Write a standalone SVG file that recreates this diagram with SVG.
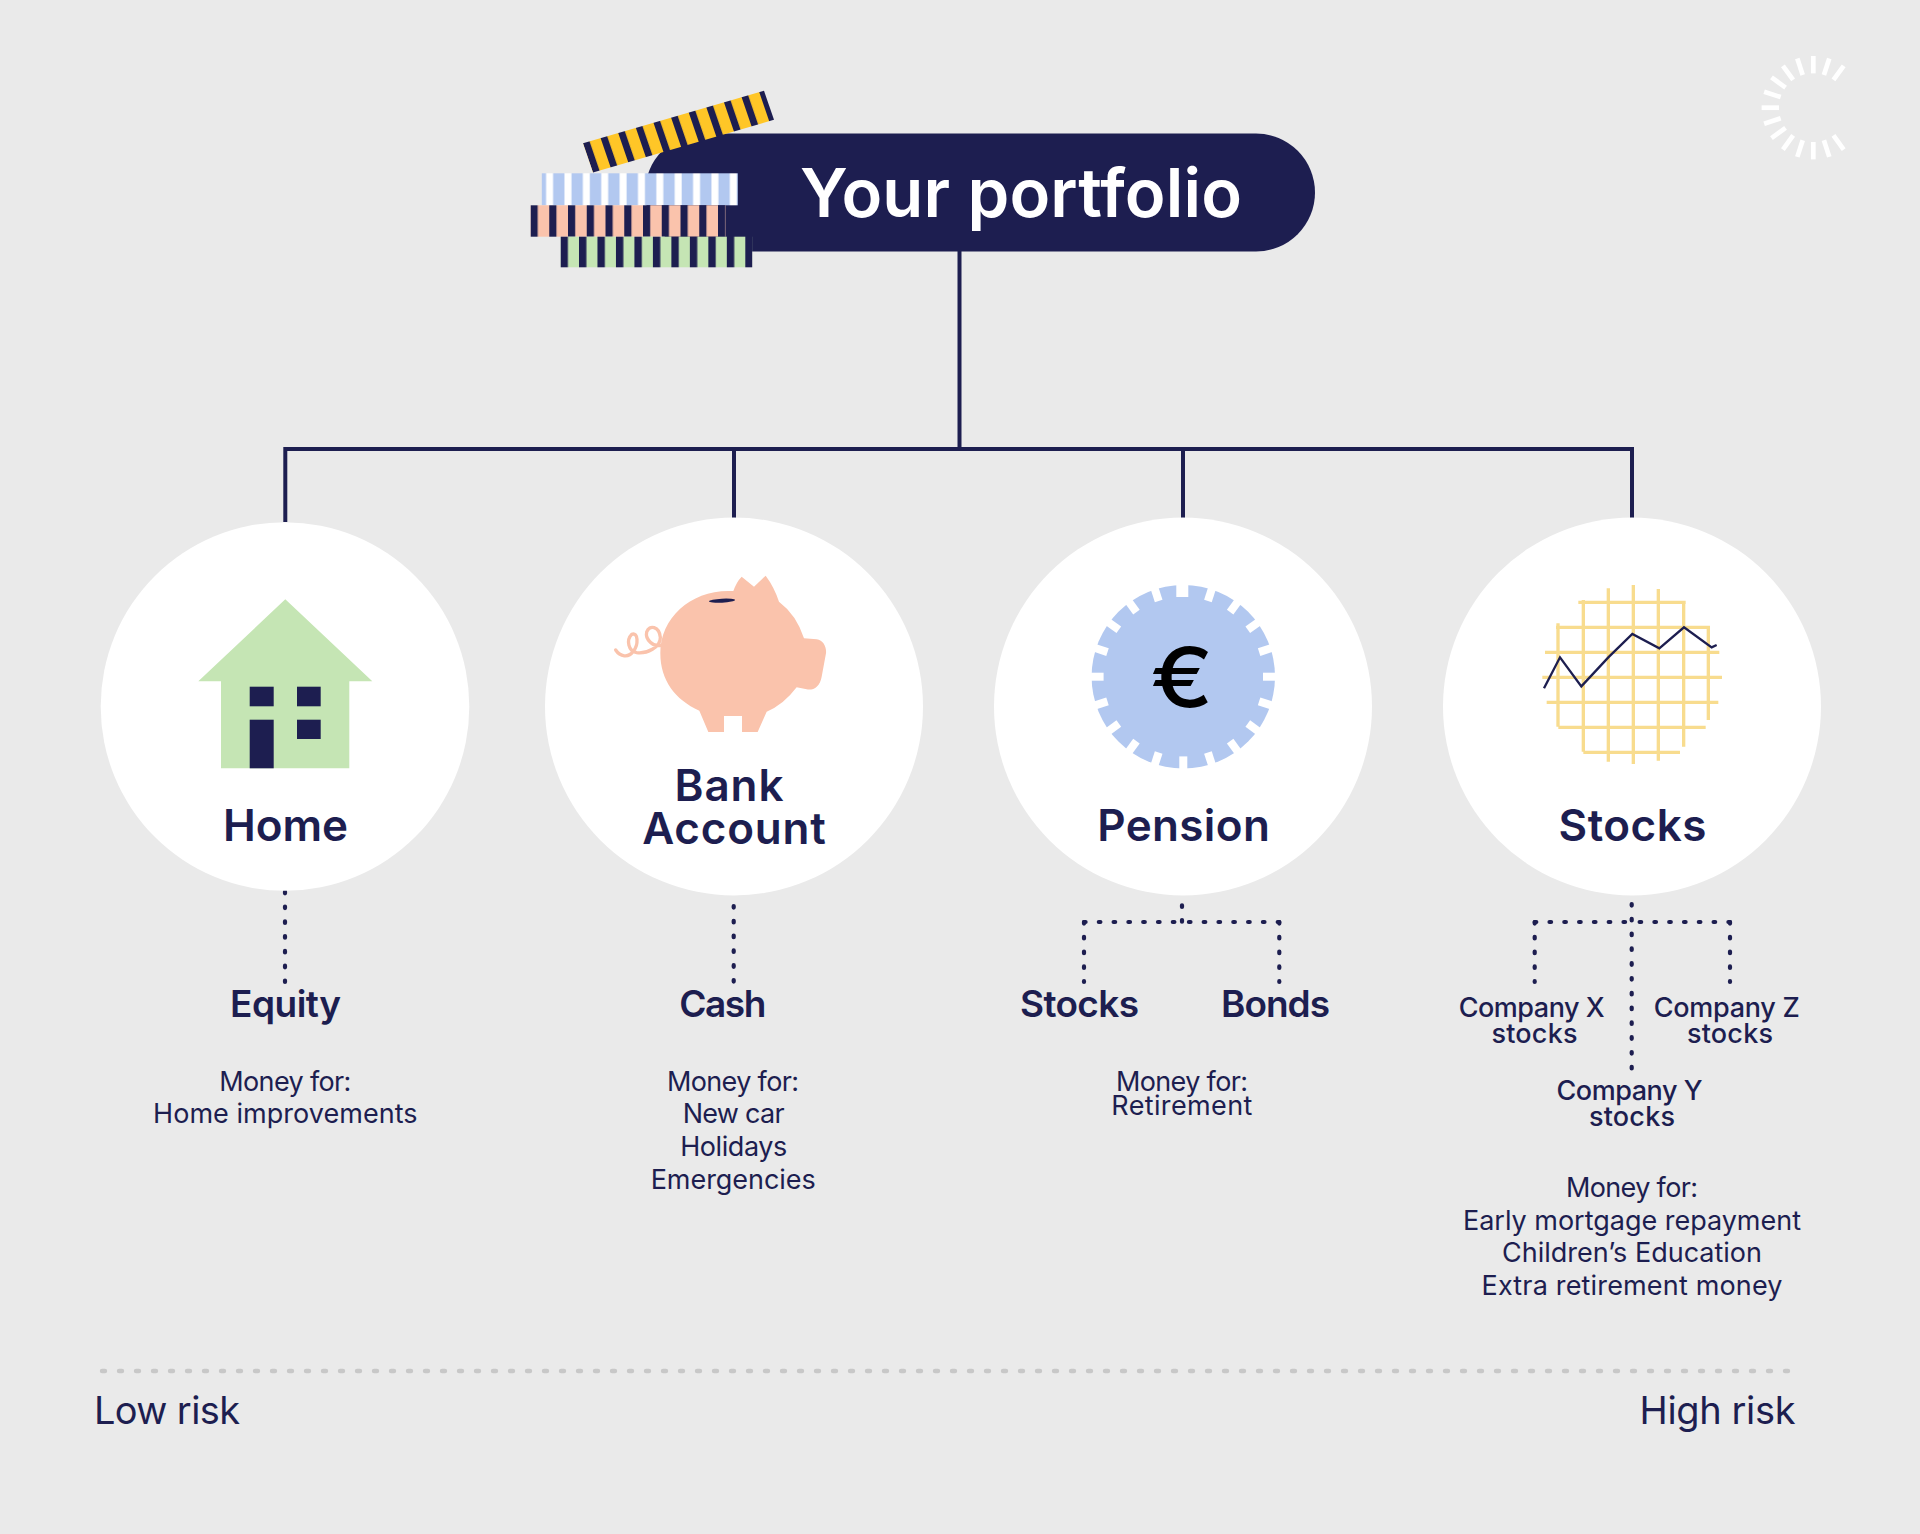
<svg xmlns="http://www.w3.org/2000/svg" width="1920" height="1534" viewBox="0 0 1920 1534">
<style>
text{font-family:"Inter","Liberation Sans",sans-serif;fill:#1d1e50;text-anchor:middle}
.h1{font-size:44px;font-weight:600}
.h2{font-size:37px;font-weight:600}
.h3{font-size:27px;font-weight:500}
.p{font-size:27px;font-weight:400}
.risk{font-size:38px;font-weight:400}
.solid{fill:none;stroke:#1d1e50;stroke-width:4}
.dot{fill:none;stroke:#1d1e50;stroke-width:4.2;stroke-linecap:round;stroke-dasharray:1.6 13.2}
.disc{fill:#fff}
.navy{fill:#1d1e50}
.notch{fill:#fff}
.tick{stroke:#fff;stroke-width:4.7}
.grid{stroke:#f8dc8e;stroke-width:10;fill:none}
</style>
<defs>
<pattern id="pGold" width="17.62" height="40" patternUnits="userSpaceOnUse"><rect width="17.62" height="40" fill="#ffc627"/><rect width="6.6" height="40" fill="#1d1e50"/></pattern>
<pattern id="pBlue" x="541.8" width="18.37" height="40" patternUnits="userSpaceOnUse"><rect width="18.37" height="40" fill="#b2c8f0"/><rect x="4.3" width="7" height="40" fill="#fff"/></pattern>
<pattern id="pPink" x="530.5" width="18.75" height="40" patternUnits="userSpaceOnUse"><rect width="18.75" height="40" fill="#fac3ac"/><rect width="7.2" height="40" fill="#1d1e50"/></pattern>
<pattern id="pGreen" x="560.5" width="18.48" height="40" patternUnits="userSpaceOnUse"><rect width="18.48" height="40" fill="#c5e5b4"/><rect width="7.4" height="40" fill="#1d1e50"/></pattern>
</defs>
<rect width="1920" height="1534" fill="#eaeaea"/>

<g id="connectors">
<path class="solid" d="M959.5 251V450M285.3 522V449H1632V518M734 449V518M1183 449V518"/>
<path class="dot" d="M285 891.7V982"/>
<path class="dot" d="M733.7 906V982"/>
<path class="dot" d="M1182 905.3V922"/>
<path class="dot" d="M1084 922H1180"/>
<path class="dot" d="M1279.3 922H1185"/>
<path class="dot" d="M1084 922V982"/>
<path class="dot" d="M1279.3 922V982"/>
<path class="dot" d="M1631.7 904V1071"/>
<path class="dot" d="M1534.7 922H1630"/>
<path class="dot" d="M1730 922H1635"/>
<path class="dot" d="M1534.7 922V982"/>
<path class="dot" d="M1730 922V982"/>
<path d="M102 1371H1799" fill="none" stroke="#c8c8c8" stroke-width="4.4" stroke-linecap="round" stroke-dasharray="3 14"/>
</g>

<g id="node-portfolio">
<rect x="645" y="133.5" width="670" height="118" rx="59" class="navy"/>
<rect width="181" height="29.2" fill="url(#pGold)" transform="matrix(1 -.291 .342 1 583 143.3)"/>
<rect x="541.8" y="173.3" width="196" height="32" fill="url(#pBlue)"/>
<rect x="530.5" y="205.3" width="195" height="31.4" fill="url(#pPink)"/>
<rect x="560.5" y="236.7" width="191.8" height="30.6" fill="url(#pGreen)"/>
<text x="1021" y="216.7" font-size="67" font-weight="600" style="fill:#fff" textLength="442">Your portfolio</text>
</g>

<g id="spinner">
<line class="tick" x1="1813.3" y1="56" x2="1813.3" y2="73.4" transform="rotate(36 1813.3 107.7)"/>
<line class="tick" x1="1813.3" y1="56" x2="1813.3" y2="73.4" transform="rotate(18 1813.3 107.7)"/>
<line class="tick" x1="1813.3" y1="56" x2="1813.3" y2="73.4"/>
<line class="tick" x1="1813.3" y1="56" x2="1813.3" y2="73.4" transform="rotate(-18 1813.3 107.7)"/>
<line class="tick" x1="1813.3" y1="56" x2="1813.3" y2="73.4" transform="rotate(-36 1813.3 107.7)"/>
<line class="tick" x1="1813.3" y1="56" x2="1813.3" y2="73.4" transform="rotate(-54 1813.3 107.7)"/>
<line class="tick" x1="1813.3" y1="56" x2="1813.3" y2="73.4" transform="rotate(-72 1813.3 107.7)"/>
<line class="tick" x1="1813.3" y1="56" x2="1813.3" y2="73.4" transform="rotate(-90 1813.3 107.7)"/>
<line class="tick" x1="1813.3" y1="56" x2="1813.3" y2="73.4" transform="rotate(-108 1813.3 107.7)"/>
<line class="tick" x1="1813.3" y1="56" x2="1813.3" y2="73.4" transform="rotate(-126 1813.3 107.7)"/>
<line class="tick" x1="1813.3" y1="56" x2="1813.3" y2="73.4" transform="rotate(-144 1813.3 107.7)"/>
<line class="tick" x1="1813.3" y1="56" x2="1813.3" y2="73.4" transform="rotate(-162 1813.3 107.7)"/>
<line class="tick" x1="1813.3" y1="56" x2="1813.3" y2="73.4" transform="rotate(180 1813.3 107.7)"/>
<line class="tick" x1="1813.3" y1="56" x2="1813.3" y2="73.4" transform="rotate(162 1813.3 107.7)"/>
<line class="tick" x1="1813.3" y1="56" x2="1813.3" y2="73.4" transform="rotate(144 1813.3 107.7)"/>
</g>

<g id="node-home">
<circle class="disc" cx="285" cy="706.5" r="184.3"/>
<path fill="#c5e5b4" d="M285.3 599.3L372.3 681.3H349.3V768.3H221V681.3H198.3Z"/>
<rect class="navy" x="249.7" y="686.7" width="24" height="19.6"/>
<rect class="navy" x="297" y="686.7" width="23.7" height="19.6"/>
<rect class="navy" x="297" y="719.7" width="23.7" height="19.3"/>
<rect class="navy" x="249.7" y="719.7" width="24" height="48.6"/>
<text class="h1" x="285.5" y="840.5" textLength="125">Home</text>
<text class="h2" x="285.5" y="1017" textLength="111">Equity</text>
<text class="p" x="285.3" y="1091" textLength="132">Money for:</text>
<text class="p" x="285.3" y="1123" textLength="264.5">Home improvements</text>
</g>

<g id="node-bank">
<circle class="disc" cx="734" cy="706.5" r="189"/>
<g transform="translate(600 560) scale(.33333)">
<path fill="#fac3ac" d="M181 280C181 175 270 93 385 93Q392 93 400 93Q410 65 425 50L462 80L497 47Q522 80 537 125Q590 165 612 235L650 238C670 240 680 262 678 280L665 350C660 380 640 392 620 388L590 382Q550 435 500 455L473 516H426V468H372V516H325L298 452C225 420 181 360 181 280Z"/>
<path fill="none" stroke="#fac3ac" stroke-width="10" stroke-linecap="round" d="M183 256C160 262 135 238 140 216C148 192 178 200 181 232C182 262 140 282 110 278C85 274 78 240 95 223C115 215 116 255 100 274C85 295 60 290 47 270"/>
<ellipse class="navy" cx="366" cy="122" rx="39" ry="6" transform="rotate(-3 366 122)"/>
</g>
<text class="h1" x="729" y="801" textLength="109">Bank</text>
<text class="h1" x="734" y="844" textLength="183.7">Account</text>
<text class="h2" x="722.8" y="1017" textLength="87">Cash</text>
<text class="p" x="733" y="1091" textLength="132">Money for:</text>
<text class="p" x="733.7" y="1123" textLength="102">New car</text>
<text class="p" x="733.7" y="1156" textLength="107">Holidays</text>
<text class="p" x="733.2" y="1189" textLength="165">Emergencies</text>
</g>

<g id="node-pension">
<circle class="disc" cx="1183" cy="706.5" r="189"/>
<circle cx="1183.3" cy="676.7" r="91.7" fill="#b2c8f0"/>
<g class="notch">
<rect x="1176.3" y="584" width="12" height="13"/>
<rect x="1179.3" y="584" width="8" height="13" transform="rotate(18 1183.3 676.7)"/>
<rect x="1179.3" y="584" width="8" height="13" transform="rotate(36 1183.3 676.7)"/>
<rect x="1179.3" y="584" width="8" height="13" transform="rotate(54 1183.3 676.7)"/>
<rect x="1179.3" y="584" width="8" height="13" transform="rotate(72 1183.3 676.7)"/>
<rect x="1179.3" y="584" width="8" height="13" transform="rotate(90 1183.3 676.7)"/>
<rect x="1179.3" y="584" width="8" height="13" transform="rotate(108 1183.3 676.7)"/>
<rect x="1179.3" y="584" width="8" height="13" transform="rotate(126 1183.3 676.7)"/>
<rect x="1179.3" y="584" width="8" height="13" transform="rotate(144 1183.3 676.7)"/>
<rect x="1179.3" y="584" width="8" height="13" transform="rotate(162 1183.3 676.7)"/>
<rect x="1179.3" y="584" width="8" height="13" transform="rotate(180 1183.3 676.7)"/>
<rect x="1179.3" y="584" width="8" height="13" transform="rotate(198 1183.3 676.7)"/>
<rect x="1179.3" y="584" width="8" height="13" transform="rotate(216 1183.3 676.7)"/>
<rect x="1179.3" y="584" width="8" height="13" transform="rotate(234 1183.3 676.7)"/>
<rect x="1179.3" y="584" width="8" height="13" transform="rotate(252 1183.3 676.7)"/>
<rect x="1179.3" y="584" width="8" height="13" transform="rotate(270 1183.3 676.7)"/>
<rect x="1179.3" y="584" width="8" height="13" transform="rotate(288 1183.3 676.7)"/>
<rect x="1179.3" y="584" width="8" height="13" transform="rotate(306 1183.3 676.7)"/>
<rect x="1179.3" y="584" width="8" height="13" transform="rotate(324 1183.3 676.7)"/>
<rect x="1179.3" y="584" width="8" height="13" transform="rotate(342 1183.3 676.7)"/>
</g>
<text transform="translate(1182 707) scale(1.14 1)" font-size="82" font-weight="500" style="fill:#000">€</text>
<text class="h1" x="1183.5" y="840.5" textLength="172.6">Pension</text>
<text class="h2" x="1079.5" y="1017" textLength="119">Stocks</text>
<text class="h2" x="1275.5" y="1017" textLength="109">Bonds</text>
<text class="p" x="1182" y="1091" textLength="132">Money for:</text>
<text class="p" x="1181.8" y="1114.5" textLength="141">Retirement</text>
</g>

<g id="node-stocks">
<circle class="disc" cx="1632" cy="706.5" r="189"/>
<g transform="translate(1520 570) scale(.33333)">
<path class="grid" d="M175 97H497M108 172H570M75 247H598M67 322H606M80 397H595M115 472H557M190 547H480M190 90V545M114 160V470M265 55V575M340 45V582M415 57V572M491 92V530M565 170V450"/>
<path fill="none" stroke="#1d1e50" stroke-width="7" d="M72 355L120 262L184 349L265 262L337 192L418 235L492 172L575 232L590 225"/>
</g>
<text class="h1" x="1632.5" y="840.5" textLength="148">Stocks</text>
<text class="h3" x="1531.7" y="1017" textLength="146">Company X</text>
<text class="h3" x="1534.5" y="1042.5" textLength="86">stocks</text>
<text class="h3" x="1726.8" y="1017" textLength="146">Company Z</text>
<text class="h3" x="1730" y="1042.5" textLength="86">stocks</text>
<text class="h3" x="1629.5" y="1099.5" textLength="146">Company Y</text>
<text class="h3" x="1632" y="1126" textLength="86">stocks</text>
<text class="p" x="1632" y="1197" textLength="132">Money for:</text>
<text class="p" x="1632" y="1229.5" textLength="338">Early mortgage repayment</text>
<text class="p" x="1632" y="1262" textLength="260">Children’s Education</text>
<text class="p" x="1632" y="1295" textLength="301">Extra retirement money</text>
</g>

<g id="risk-scale">
<text class="risk" x="167" y="1423.5" textLength="146">Low risk</text>
<text class="risk" x="1717.5" y="1423.5" textLength="156">High risk</text>
</g>
</svg>
